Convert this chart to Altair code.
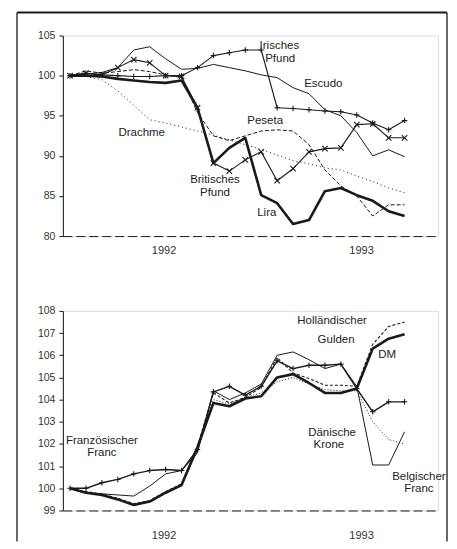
import altair as alt
import pandas as pd

# ---------------- data ----------------
month_index = list(range(22))  # Jan 1992 ... Oct 1993, monthly

# top panel
irisches_pfund = [100, 100.3, 100.1, 100.0, 99.9, 99.9, 100.0, 100.0, 101.0, 102.5, 102.85,
                  103.2, 103.2, 96.0, 95.9, 95.75, 95.6, 95.5, 95.1, 94.1, 93.25, 94.4]
escudo = [100, 100.2, 100.4, 101.0, 103.2, 103.6, 102.1, 100.8, 100.9, 101.4, 101.0,
          100.6, 100.1, 99.75, 98.5, 97.75, 95.75, 95.0, 92.9, 90.0, 90.75, 89.9]
peseta = [100, 100.6, 100.3, 100.5, 100.75, 100.5, 100.1, 99.75, 95.4, 92.5, 91.9,
          92.5, 93.1, 93.25, 93.1, 91.4, 88.25, 86.25, 85.0, 82.5, 83.9, 83.9]
drachme = [100, 99.9, 99.5, 98.1, 96.3, 94.5, 94.1, 93.6, 93.1, 92.6, 92.0,
           91.4, 90.8, 90.1, 89.4, 89.0, 88.5, 88.25, 87.5, 86.8, 86.0, 85.4]
brit_pfund = [100, 100.3, 100.1, 101.0, 102.0, 101.6, 100.0, 99.9, 96.0, 89.1, 88.1,
              89.5, 90.5, 86.9, 88.4, 90.5, 90.9, 91.0, 93.9, 94.0, 92.25, 92.25]
lira = [100, 100.0, 99.9, 99.6, 99.4, 99.2, 99.1, 99.4, 96.0, 89.1, 91.0,
        92.25, 85.1, 84.1, 81.5, 82.0, 85.6, 86.0, 85.1, 84.4, 83.1, 82.5]

# bottom panel
dm = [100, 99.8, 99.7, 99.5, 99.25, 99.4, 99.8, 100.15, 101.85, 103.85, 103.7,
      104.05, 104.15, 105.0, 105.15, 104.75, 104.3, 104.3, 104.5, 106.3, 106.75, 106.95]
gulden = [100, 99.85, 99.75, 99.55, 99.3, 99.45, 99.85, 100.2, 101.9, 104.3, 103.85,
          104.1, 104.55, 105.9, 105.2, 104.95, 104.65, 104.65, 104.6, 106.5, 107.3, 107.5]
franz_franc = [100, 100.0, 100.25, 100.4, 100.65, 100.8, 100.85, 100.8, 101.75, 104.35, 104.6,
               104.2, 104.6, 105.75, 105.4, 105.55, 105.55, 105.6, 104.5, 103.45, 103.9, 103.9]
daen_krone = [100, 99.8, 99.7, 99.5, 99.3, 99.45, 99.8, 100.1, 101.7, 104.0, 103.8,
              104.1, 104.3, 104.8, 105.0, 104.7, 104.45, 104.4, 104.4, 103.0, 102.2, 102.0]
belg_franc = [100, 99.8, 99.75, 99.7, 99.65, 100.1, 100.65, 100.8, 101.6, 104.4, 104.0,
              104.3, 104.7, 106.0, 106.15, 105.8, 105.4, 105.6, 104.6, 101.05, 101.05, 102.55]

year_labels = ["1992", "1993"]
year_pos = [5.9, 18.3]

top_ticks = [80, 85, 90, 95, 100, 105]
bottom_ticks = [99, 100, 101, 102, 103, 104, 105, 106, 107, 108]

# series labels (text, x in months, y in index value)
top_label_text = ["Irisches", "Pfund", "Escudo", "Peseta", "Drachme", "Britisches", "Pfund", "Lira"]
top_label_x = [11.9, 12.25, 15.9, 12.25, 4.5, 9.1, 9.1, 12.35]
top_label_y = [103.7, 102.1, 98.9, 94.4, 92.9, 86.95, 85.35, 82.85]
top_label_align = ["left", "left", "center", "center", "center", "center", "center", "center"]

bot_label_text = ["Holländischer", "Gulden", "DM", "Dänische", "Krone",
                  "Belgischer", "Franc", "Französischer", "Franc"]
bot_label_x = [16.45, 16.7, 19.9, 16.45, 16.25, 21.9, 21.9, 2.0, 2.0]
bot_label_y = [107.55, 106.7, 106.0, 102.5, 101.95, 100.5, 99.95, 102.15, 101.6]

# ---------------- styles ----------------
INK = "#1a1a1a"
PLUS = "M-1,0L1,0M0,-1L0,1"
CROSS = "M-1,-1L1,1M-1,1L1,-1"

top_styles = [
    ("Irisches Pfund", irisches_pfund, 1.1, None, PLUS),
    ("Escudo", escudo, 1.0, None, None),
    ("Peseta", peseta, 1.0, [4, 2], None),
    ("Drachme", drachme, 1.0, [1, 3], None),
    ("Britisches Pfund", brit_pfund, 1.1, None, CROSS),
    ("Lira", lira, 2.6, None, None),
]
bottom_styles = [
    ("Belgischer Franc", belg_franc, 1.0, None, None),
    ("Dänische Krone", daen_krone, 1.0, [1, 2], None),
    ("Holländischer Gulden", gulden, 1.1, [3, 2], None),
    ("Französischer Franc", franz_franc, 1.4, None, PLUS),
    ("DM", dm, 2.6, None, None),
]

W = 376
H_TOP = 201
H_BOT = 200
GAP = 75
FONT = "Liberation Sans"

x_scale = alt.Scale(domain=[-0.45, 23.1], nice=False, zero=False)
x_axis = alt.Axis(title=None, labels=False, ticks=False, grid=False,
                  domainDash=[9, 4], domainColor=INK, domainWidth=1)


def y_axis(values):
    return alt.Axis(title=None, values=values, grid=False, tickSize=4,
                    labelFontSize=10.5, labelColor="#333", labelFont=FONT,
                    tickColor=INK, domainColor=INK, labelPadding=4)


def panel(styles, domain, ticks, height, lab_text, lab_x, lab_y, lab_align, year_dy):
    X = alt.X("i:Q", scale=x_scale, axis=x_axis)
    Y = alt.Y("v:Q", scale=alt.Scale(domain=domain, nice=False, zero=False),
              axis=y_axis(ticks))
    layers = []
    for name, vals, width, dash, marker in styles:
        df = pd.DataFrame({"i": month_index, "v": vals, "s": name})
        kw = {"color": INK, "strokeWidth": width, "strokeJoin": "round"}
        if dash:
            kw["strokeDash"] = dash
        layers.append(alt.Chart(df).mark_line(**kw).encode(x=X, y=Y))
        if marker:
            layers.append(alt.Chart(df).mark_point(shape=marker, filled=False, size=30,
                                                   color=INK, strokeWidth=1.1, opacity=1)
                          .encode(x=X, y=Y))
    lab = pd.DataFrame({"t": lab_text, "i": lab_x, "v": lab_y, "a": lab_align})
    for al in sorted(set(lab_align)):
        layers.append(alt.Chart(lab[lab["a"] == al]).mark_text(
            font=FONT, fontSize=11.5, color="#222", align=al, baseline="middle")
            .encode(x=X, y=Y, text="t:N"))
    yr = pd.DataFrame({"t": year_labels, "i": year_pos})
    layers.append(alt.Chart(yr).mark_text(font=FONT, fontSize=11, color="#333",
                                          baseline="middle")
                  .encode(x=X, y=alt.value(height + year_dy), text="t:N"))
    return alt.layer(*layers).properties(width=W, height=height)


top = panel(top_styles, [80, 105], top_ticks, H_TOP,
            top_label_text, top_label_x, top_label_y, top_label_align, 15)
bottom = panel(bottom_styles, [99, 108], bottom_ticks, H_BOT,
               bot_label_text, bot_label_x, bot_label_y, ["center"] * len(bot_label_text), 26)

# outer frame of the figure (decoration)
frame_df = pd.DataFrame({"k": [0]})
frame = alt.layer(
    alt.Chart(frame_df).mark_rule(color=INK, strokeWidth=2).encode(
        x=alt.value(-46), x2=alt.value(385), y=alt.value(-23)),
    alt.Chart(frame_df).mark_rule(color=INK, strokeWidth=1.3).encode(
        x=alt.value(-46), y=alt.value(-23), y2=alt.value(H_TOP + GAP + H_BOT + 31)),
    alt.Chart(frame_df).mark_rule(color=INK, strokeWidth=1.3).encode(
        x=alt.value(385), y=alt.value(-23), y2=alt.value(H_TOP + GAP + H_BOT + 31)),
)
top = alt.layer(top, frame).properties(width=W, height=H_TOP)

chart = alt.vconcat(top, bottom, spacing=GAP, bounds="flush").properties(
    padding={"left": 7, "top": 2, "right": 0, "bottom": 0}
).configure_view(stroke=None).configure(background="white")

chart.save("out.html", embed_options={"renderer": "svg", "actions": False})
